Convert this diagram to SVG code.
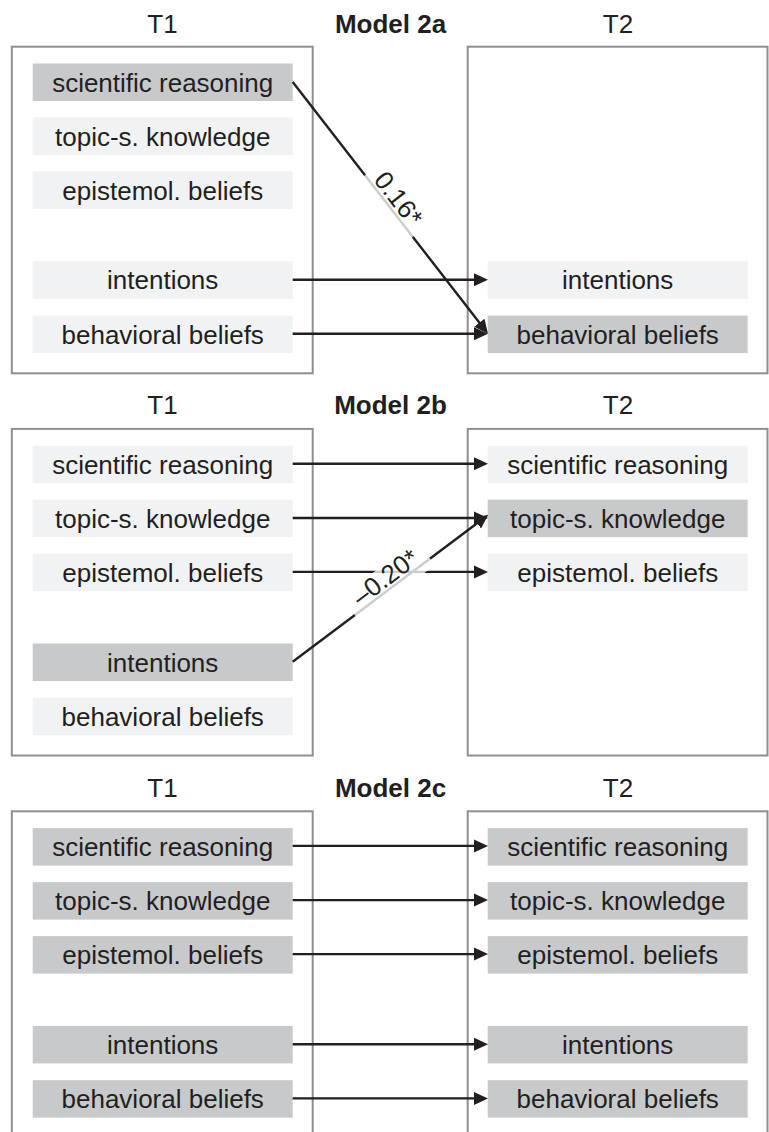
<svg xmlns="http://www.w3.org/2000/svg" width="769" height="1132" viewBox="0 0 769 1132">
<defs>
<style>
.t{font-family:"Liberation Sans",Arial,Helvetica,sans-serif;font-size:26px;fill:#231f20;text-anchor:middle}
.b{font-weight:bold}
.box{fill:none;stroke:#8f8f8f;stroke-width:2}
.dk{fill:#c8c9cb}
.lt{fill:#f1f2f3}
.c{fill:none;stroke:#231f20;stroke-width:2.4;marker-end:url(#ah)}
.ov{fill:#ffffff;fill-opacity:0.78}
</style>
<marker id="ah" markerUnits="userSpaceOnUse" markerWidth="15" markerHeight="14" refX="10" refY="7" orient="auto">
<path d="M0,0.5 L14,7 L0,13.5 Z" fill="#231f20"/>
</marker>
</defs>
<rect width="769" height="1132" fill="#ffffff"/>

<!-- Panel A -->
<g id="panelA">
<text class="t" x="162.5" y="33.3">T1</text>
<text class="t b" x="390.5" y="33.3">Model 2a</text>
<text class="t" x="618" y="33.3">T2</text>
<rect id="a-T1box" class="box" x="11.8" y="46.7" width="300.9" height="326.6"/>
<rect id="a-T2box" class="box" x="467.7" y="46.7" width="299.8" height="326.6"/>
<g id="a-L-sci"><rect class="dk" x="32.7" y="63.5" width="260" height="37.5"/><text class="t" x="162.7" y="91.6">scientific reasoning</text></g>
<g id="a-L-topic"><rect class="lt" x="32.7" y="117.5" width="260" height="37.5"/><text class="t" x="162.7" y="145.6">topic-s. knowledge</text></g>
<g id="a-L-epi"><rect class="lt" x="32.7" y="171.5" width="260" height="37.5"/><text class="t" x="162.7" y="199.6">epistemol. beliefs</text></g>
<g id="a-L-int"><rect class="lt" x="32.7" y="261.3" width="260" height="37.5"/><text class="t" x="162.7" y="289.4">intentions</text></g>
<g id="a-L-beh"><rect class="lt" x="32.7" y="315.6" width="260" height="37.5"/><text class="t" x="162.7" y="343.7">behavioral beliefs</text></g>
<g id="a-R-int"><rect class="lt" x="487.7" y="261.3" width="260" height="37.5"/><text class="t" x="617.7" y="289.4">intentions</text></g>
<g id="a-R-beh"><rect class="dk" x="487.7" y="315.6" width="260" height="37.5"/><text class="t" x="617.7" y="343.7">behavioral beliefs</text></g>
<g id="a-connectors">
<line class="c" x1="292.7" y1="279.8" x2="484" y2="279.8"/>
<line class="c" x1="292.7" y1="333.8" x2="484" y2="333.8"/>
<line class="c" x1="292.7" y1="82" x2="485.5" y2="330.6"/>
<g transform="translate(389,206) rotate(52.2)">
<rect class="ov" x="-39" y="-23" width="78" height="30"/>
<text class="t" x="0" y="-3">0.16*</text>
</g>
</g>
</g>

<!-- Panel B -->
<g id="panelB" transform="translate(0,382.2)">
<text class="t" x="162.5" y="32.3">T1</text>
<text class="t b" x="390.5" y="32.3">Model 2b</text>
<text class="t" x="618" y="32.3">T2</text>
<rect id="b-T1box" class="box" x="11.8" y="46.7" width="300.9" height="326.6"/>
<rect id="b-T2box" class="box" x="467.7" y="46.7" width="299.8" height="326.6"/>
<g id="b-L-sci"><rect class="lt" x="32.7" y="63.5" width="260" height="37.5"/><text class="t" x="162.7" y="91.6">scientific reasoning</text></g>
<g id="b-L-topic"><rect class="lt" x="32.7" y="117.5" width="260" height="37.5"/><text class="t" x="162.7" y="145.6">topic-s. knowledge</text></g>
<g id="b-L-epi"><rect class="lt" x="32.7" y="171.5" width="260" height="37.5"/><text class="t" x="162.7" y="199.6">epistemol. beliefs</text></g>
<g id="b-L-int"><rect class="dk" x="32.7" y="261.3" width="260" height="37.5"/><text class="t" x="162.7" y="289.4">intentions</text></g>
<g id="b-L-beh"><rect class="lt" x="32.7" y="315.6" width="260" height="37.5"/><text class="t" x="162.7" y="343.7">behavioral beliefs</text></g>
<g id="b-R-sci"><rect class="lt" x="487.7" y="63.5" width="260" height="37.5"/><text class="t" x="617.7" y="91.6">scientific reasoning</text></g>
<g id="b-R-topic"><rect class="dk" x="487.7" y="117.5" width="260" height="37.5"/><text class="t" x="617.7" y="145.6">topic-s. knowledge</text></g>
<g id="b-R-epi"><rect class="lt" x="487.7" y="171.5" width="260" height="37.5"/><text class="t" x="617.7" y="199.6">epistemol. beliefs</text></g>
<g id="b-connectors">
<line class="c" x1="292.7" y1="81.5" x2="484" y2="81.5"/>
<line class="c" x1="292.7" y1="135.8" x2="484" y2="135.8"/>
<line class="c" x1="292.7" y1="189.7" x2="484" y2="189.7"/>
<line class="c" x1="292.7" y1="279.6" x2="485.1" y2="135"/>
<g transform="translate(392.5,204.6) rotate(-36.9)">
<rect class="ov" x="-47" y="-23" width="94" height="31"/>
<text class="t" x="0" y="-3">–0.20*</text>
</g>
</g>
</g>

<!-- Panel C -->
<g id="panelC" transform="translate(0,764.6)">
<text class="t" x="162.5" y="32.3">T1</text>
<text class="t b" x="390.5" y="32.3">Model 2c</text>
<text class="t" x="618" y="32.3">T2</text>
<rect id="c-T1box" class="box" x="11.8" y="46.7" width="300.9" height="400"/>
<rect id="c-T2box" class="box" x="467.7" y="46.7" width="299.8" height="400"/>
<g id="c-L-sci"><rect class="dk" x="32.7" y="63.5" width="260" height="37.5"/><text class="t" x="162.7" y="91.6">scientific reasoning</text></g>
<g id="c-L-topic"><rect class="dk" x="32.7" y="117.5" width="260" height="37.5"/><text class="t" x="162.7" y="145.6">topic-s. knowledge</text></g>
<g id="c-L-epi"><rect class="dk" x="32.7" y="171.5" width="260" height="37.5"/><text class="t" x="162.7" y="199.6">epistemol. beliefs</text></g>
<g id="c-L-int"><rect class="dk" x="32.7" y="261.3" width="260" height="37.5"/><text class="t" x="162.7" y="289.4">intentions</text></g>
<g id="c-L-beh"><rect class="dk" x="32.7" y="315.6" width="260" height="37.5"/><text class="t" x="162.7" y="343.7">behavioral beliefs</text></g>
<g id="c-R-sci"><rect class="dk" x="487.7" y="63.5" width="260" height="37.5"/><text class="t" x="617.7" y="91.6">scientific reasoning</text></g>
<g id="c-R-topic"><rect class="dk" x="487.7" y="117.5" width="260" height="37.5"/><text class="t" x="617.7" y="145.6">topic-s. knowledge</text></g>
<g id="c-R-epi"><rect class="dk" x="487.7" y="171.5" width="260" height="37.5"/><text class="t" x="617.7" y="199.6">epistemol. beliefs</text></g>
<g id="c-R-int"><rect class="dk" x="487.7" y="261.3" width="260" height="37.5"/><text class="t" x="617.7" y="289.4">intentions</text></g>
<g id="c-R-beh"><rect class="dk" x="487.7" y="315.6" width="260" height="37.5"/><text class="t" x="617.7" y="343.7">behavioral beliefs</text></g>
<g id="c-connectors">
<line class="c" x1="292.7" y1="81.3" x2="484" y2="81.3"/>
<line class="c" x1="292.7" y1="135.5" x2="484" y2="135.5"/>
<line class="c" x1="292.7" y1="189.5" x2="484" y2="189.5"/>
<line class="c" x1="292.7" y1="279.6" x2="484" y2="279.6"/>
<line class="c" x1="292.7" y1="333.8" x2="484" y2="333.8"/>
</g>
</g>
</svg>
